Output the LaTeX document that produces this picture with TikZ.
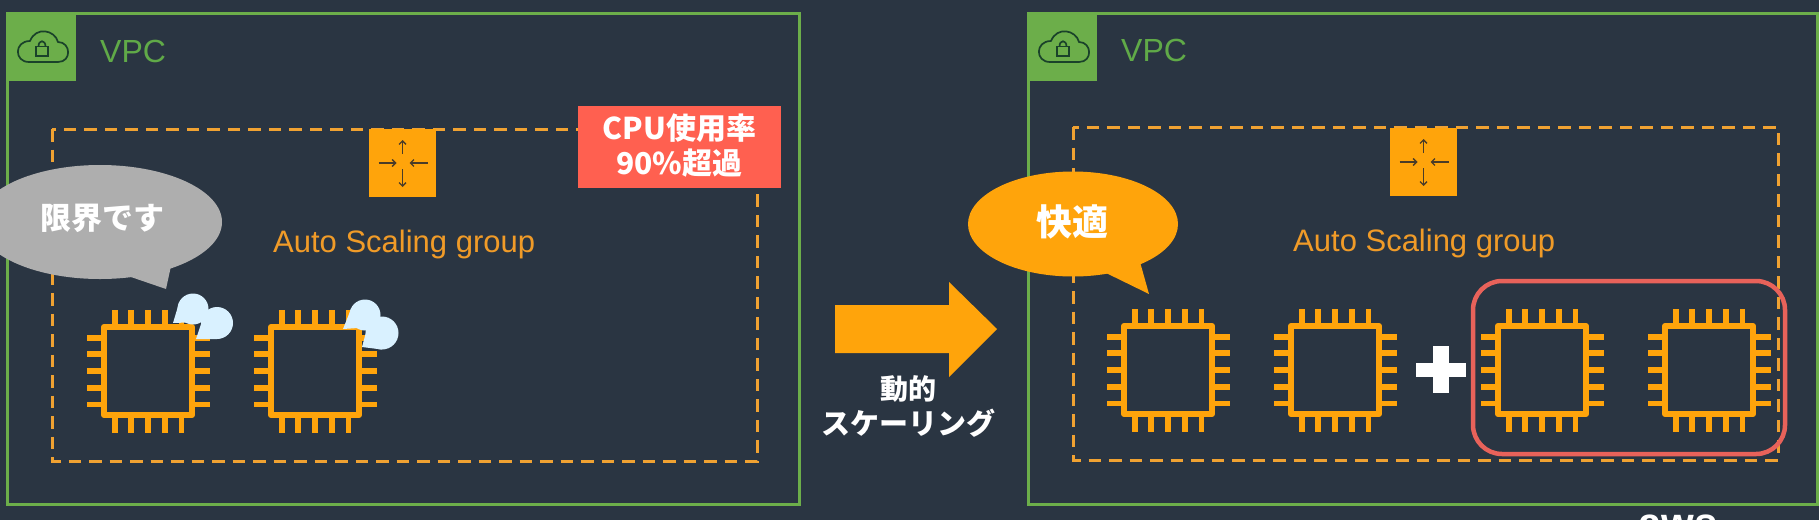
\documentclass[tikz,border=0pt]{standalone}
\usepackage{fontspec}
\setmainfont{Liberation Sans}
\newfontfamily\jpf{Noto Sans CJK JP}
\usetikzlibrary{arrows.meta}
\definecolor{bgc}{RGB}{42,53,66}
\definecolor{grn}{RGB}{108,174,74}
\definecolor{grnt}{RGB}{96,170,72}
\definecolor{grnd}{RGB}{26,66,42}
\definecolor{org}{RGB}{255,164,11}
\definecolor{orgd}{RGB}{240,162,50}
\definecolor{orgt}{RGB}{240,155,40}
\definecolor{redb}{RGB}{255,96,80}
\definecolor{redl}{RGB}{232,98,90}
\definecolor{gryc}{RGB}{174,174,174}
\definecolor{icod}{RGB}{74,60,40}
\definecolor{puff}{RGB}{217,241,255}
\tikzset{
  x=1pt,y=-1pt,
  vpcbox/.style={draw=grn,line width=3pt},
  asgbox/.style={draw=orgd,line width=3pt,dash pattern=on 12.5pt off 8pt},
  tagsq/.style={fill=grn},
  iconsq/.style={fill=org},
  vpclabel/.style={text=grnt,font=\fontsize{32}{36}\selectfont,inner sep=0pt,anchor=base west},
  asglabel/.style={text=orgt,font=\fontsize{31}{35}\selectfont,inner sep=0pt,anchor=base west},
  jpbold/.style={text=white,inner sep=0pt,align=center,font=\jpf\bfseries\fontsize{#1}{36}\selectfont},
  arr/.style={draw=icod,line width=1.3pt,-{Straight Barb[length=3.5pt,width=7pt]}},
  puffy/.style={fill=puff},
  vpcicon/.pic={
    \fill[tagsq] (0,0) rectangle (69,68);
    \draw[grnd,line width=1.7pt,line join=round]
      (22,49) -- (51,49) .. controls (65,49) and (64,29) .. (51,29)
      .. controls (48,17) and (29,13) .. (23,28)
      .. controls (7,28) and (7,49) .. (22,49) -- cycle;
    \draw[grnd,line width=1.7pt] (29,33.5) rectangle (41,43);
    \draw[grnd,line width=1.7pt] (31.5,33.5) .. controls (31.5,26.5) and (38.5,26.5) .. (38.5,33.5);
  },
  scaleicon/.pic={
    \fill[iconsq] (-33.5,-34) rectangle (33.5,34);
    \draw[arr] (0,-9) -- (0,-23);
    \draw[arr] (0,6) -- (0,24);
    \draw[arr] (-24,0) -- (-6,0);
    \draw[arr] (25,0) -- (7,0);
  },
  chip/.pic={
    \draw[org,line width=6pt,line join=round] (-44,-44) rectangle (44,44);
    \foreach \k in {-33.4,-16.7,0,16.7,33.4}{
      \draw[org,line width=5.8pt] (\k,-47) -- (\k,-61.5);
      \draw[org,line width=5.8pt] (\k,47) -- (\k,62);
      \draw[org,line width=5.8pt] (-47,\k) -- (-61.5,\k);
      \draw[org,line width=5.8pt] (47,\k) -- (61.5,\k);
    }
  },
}
\begin{document}
\begin{tikzpicture}
\useasboundingbox (0,0) rectangle (1819,520);
\clip (0,0) rectangle (1819,520);
\fill[bgc] (0,0) rectangle (1819,520);

% panels
\draw[vpcbox] (7,13) rectangle (799,504);
\draw[vpcbox] (1028,13) rectangle (1817,504);
\pic at (7,13) {vpcicon};
\pic at (1028,13) {vpcicon};
\node[vpclabel] (vpcl) at (100,62) {VPC};
\node[vpclabel] (vpcr) at (1121,61) {VPC};

\draw[asgbox] (52,129) rectangle (757,461);
\draw[asgbox] (1073,127) rectangle (1778,460);

\pic at (402.5,163) {scaleicon};
\pic at (1423.5,162) {scaleicon};
\node[asglabel] (asgl) at (273,252) {Auto Scaling group};
\node[asglabel] (asgr) at (1293,251) {Auto Scaling group};

% chips
\pic at (148,371) {chip};
\pic at (315,371) {chip};
\pic at (1168,370) {chip};
\pic at (1335,370) {chip};
\pic at (1542,370) {chip};
\pic at (1709,370) {chip};

% sweat
\fill[puffy] (193,309) circle [radius=15.5pt];
\fill[puffy] (173,323) -- (179,303) -- (205,314) -- (203,322) -- cycle;
\fill[puffy] (217,323) circle [radius=16pt];
\fill[puffy] (196,339) -- (203,318) -- (217,339) -- cycle;
\fill[puffy] (365,315) circle [radius=15.5pt];
\fill[puffy] (343,329) -- (351,309) -- (378,322) -- (373,327) -- cycle;
\fill[puffy] (382,333) circle [radius=16.5pt];
\fill[puffy] (362,347) -- (368,325) -- (382,349.5) -- cycle;

% CPU tag
\node[fill=redb,minimum width=203pt,minimum height=82pt,inner sep=0pt] (cpubox) at (679.5,147) {};
\node[jpbold=30] (cputext) at (679.5,146) {CPU使用率\\[-1pt]90\%超過};

% gray callout
\fill[gryc] (100,222) ellipse [x radius=122pt,y radius=57pt];
\fill[gryc] (128,276) -- (166,289) -- (171,266) -- cycle;
\node[jpbold=31] (limit) at (102,218) {限界です};

% orange callout
\fill[org] (1073,224) ellipse [x radius=105pt,y radius=52.5pt];
\fill[org] (1104,272) -- (1149,294) -- (1140,262) -- cycle;
\node[jpbold=36] (comfy) at (1072,222) {快適};

% big arrow
\fill[org] (835,305) -- (949,305) -- (949,282) -- (997,329) -- (949,377) -- (949,353) -- (835,353) -- cycle;
\node[jpbold=28] (dyn) at (908,389) {動的};
\node[jpbold=29] (scal) at (908,423) {スケーリング};

% plus
\fill[white] (1433,346) rectangle (1449,393);
\fill[white] (1416,363) rectangle (1466,377);

% red rounded rectangle
\draw[redl,line width=4.5pt,rounded corners=29pt] (1473,281) rectangle (1785,454);

% cropped logo text
\node[text=white,font=\bfseries\fontsize{42}{46}\selectfont,inner sep=0pt,anchor=base] (aws) at (1678,537) {aws};
\end{tikzpicture}
\end{document}
